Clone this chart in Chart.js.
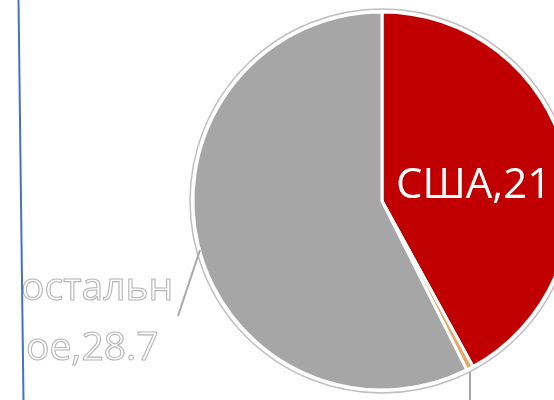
<!DOCTYPE html>
<html>
<head>
<meta charset="utf-8">
<script src="https://cdn.jsdelivr.net/npm/chart.js@4/dist/chart.umd.min.js"></script>
<style>
  html, body { margin: 0; padding: 0; background: #fff; overflow: hidden; }
  #wrap { position: absolute; left: 0; top: 0; width: 764px; height: 400px; }
</style>
</head>
<body>
<div id="wrap"><canvas id="pie"></canvas></div>
<script>
// Chart data
const labels = ["США", "", "остальное"];
const values = [21, 0.3, 28.7];
const colors = ["#C00000", "#E9A66A", "#A6A6A6"];

// outer ring, labels, leader lines and the blue line on the left
const decorations = {
  id: "decorations",
  afterDatasetsDraw(chart) {
    const ctx = chart.ctx;
    const arc = chart.getDatasetMeta(0).data[0];
    const cx = arc.x, cy = arc.y, r = arc.outerRadius;

    ctx.save();
    // thin grey outline around the pie
    ctx.beginPath();
    ctx.arc(cx, cy, r + 3, 0, Math.PI * 2);
    ctx.strokeStyle = "#BFBFBF";
    ctx.lineWidth = 1.5;
    ctx.stroke();

    // leader lines
    ctx.strokeStyle = "#A6A6A6";
    ctx.lineWidth = 2;
    ctx.beginPath();
    ctx.moveTo(cx - 182, cy + 49);
    ctx.lineTo(cx - 204, cy + 115);
    ctx.stroke();
    ctx.beginPath();
    ctx.moveTo(cx + 88, cy + 171);
    ctx.lineTo(cx + 88, cy + 210);
    ctx.stroke();

    // labels
    ctx.textBaseline = "alphabetic";
    ctx.textAlign = "left";
    ctx.font = "42px 'Open Sans'";
    ctx.fillStyle = "#FFFFFF";
    ctx.fillText(labels[0] + "," + values[0], cx + 14, cy - 3);

    ctx.font = "39px 'Open Sans'";
    ctx.lineWidth = 1.1;
    ctx.strokeStyle = "#B5B5B5";
    ctx.fillStyle = "#FFFFFF";
    const other = labels[2];
    const l1 = other.slice(0, 7);
    const l2 = other.slice(7) + "," + values[2];
    ctx.fillText(l1, 21, 300);
    ctx.strokeText(l1, 21, 300);
    ctx.fillText(l2, 26, 360);
    ctx.strokeText(l2, 26, 360);

    // blue vertical line
    ctx.strokeStyle = "#4472C4";
    ctx.lineWidth = 2;
    ctx.beginPath();
    ctx.moveTo(18.5, 0);
    ctx.lineTo(23.5, 400);
    ctx.stroke();
    ctx.restore();
  }
};

new Chart(document.getElementById("pie"), {
  type: "pie",
  data: {
    labels: labels,
    datasets: [{
      data: values,
      backgroundColor: colors,
      borderColor: "#FFFFFF",
      borderWidth: 3,
      radius: 189
    }]
  },
  options: {
    responsive: true,
    maintainAspectRatio: false,
    animation: false,
    layout: { padding: { top: 2, bottom: 0, left: 0, right: 0 } },
    plugins: {
      legend: { display: false },
      tooltip: { enabled: false }
    }
  },
  plugins: [decorations]
});
</script>
</body>
</html>
